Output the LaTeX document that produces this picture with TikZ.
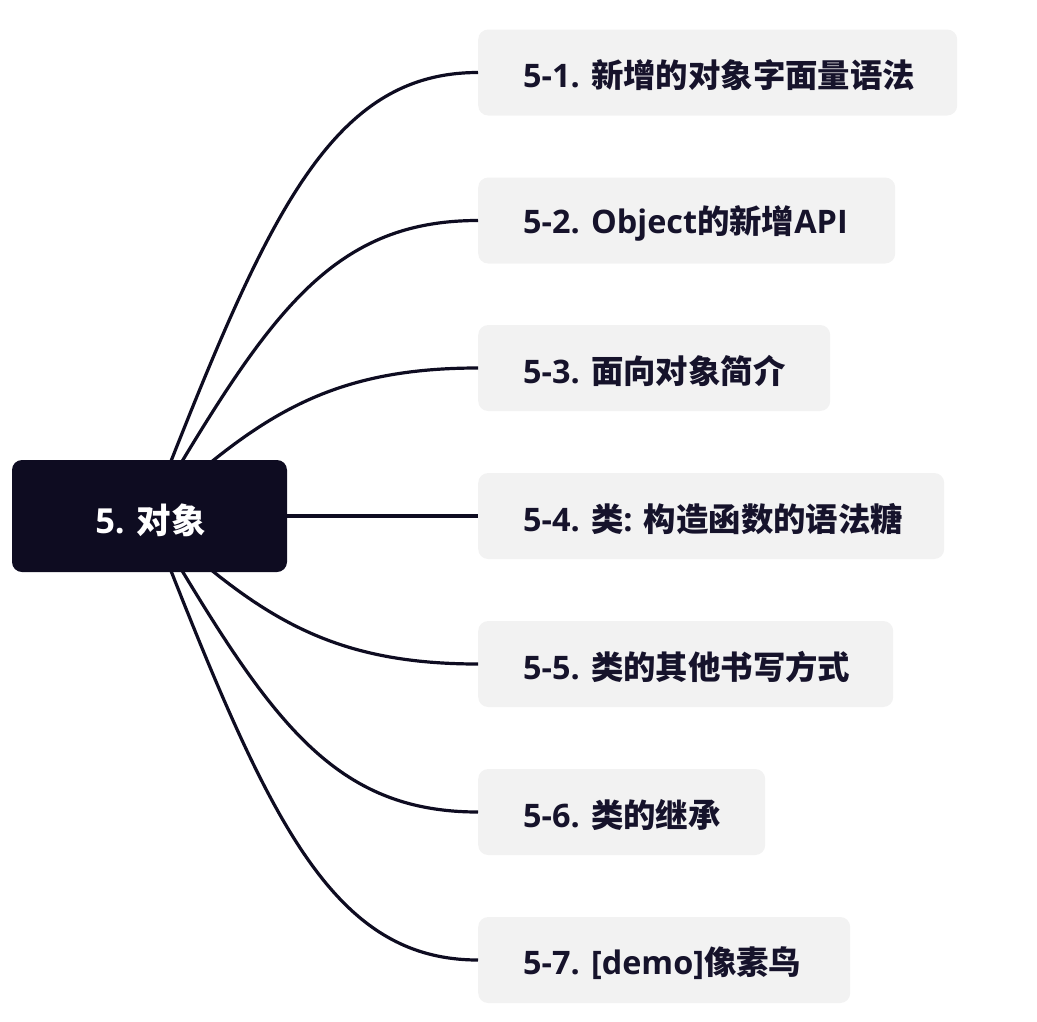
\documentclass[tikz,border=0pt]{standalone}
\usepackage{fontspec}
\setmainfont{Open Sans}
\newfontfamily\cjk{Noto Sans CJK SC}
\newcommand{\zh}[1]{{\cjk\bfseries #1}}
\definecolor{ink}{HTML}{0E0C21}
\definecolor{boxgray}{HTML}{F2F2F2}
\definecolor{txt}{HTML}{16132B}
\begin{document}
\begin{tikzpicture}[x=1pt,y=-1pt,
  conn/.style={draw=ink,line width=3.2pt},
  rootbox/.style={fill=ink,rounded corners=10pt,minimum width=275pt,minimum height=112pt,inner sep=0pt},
  childbox/.style={fill=boxgray,rounded corners=10pt,minimum height=86pt,inner sep=0pt,anchor=west},
  childtext/.style={anchor=west,inner sep=0pt,text=txt,font=\fontsize{32.4}{38}\selectfont\bfseries},
  roottext/.style={inner sep=0pt,text=white,font=\fontsize{34.5}{40}\selectfont\bfseries}]
\useasboundingbox (0,0) rectangle (1037,1021);
% child boxes
\node[childbox,minimum width=479pt] (b1) at (478,72.5) {};
\node[childbox,minimum width=417pt] (b2) at (478,220.5) {};
\node[childbox,minimum width=352pt] (b3) at (478,368) {};
\node[childbox,minimum width=466pt] (b4) at (478,516) {};
\node[childbox,minimum width=415pt] (b5) at (478,664) {};
\node[childbox,minimum width=287pt] (b6) at (478,812) {};
\node[childbox,minimum width=372pt] (b7) at (478,960) {};
% root placeholder for connectors
\coordinate (rc) at (149.5,516);
% connectors
\draw[conn] (rc) .. controls (265,220) and (328,72.5) .. (b1.west);
\draw[conn] (rc) .. controls (266,319) and (328,220.5) .. (b2.west);
\draw[conn] (rc) .. controls (257,417) and (328,368) .. (b3.west);
\draw[conn] (rc) -- (b4.west);
\draw[conn] (rc) .. controls (257,615) and (328,664) .. (b5.west);
\draw[conn] (rc) .. controls (266,713) and (328,812) .. (b6.west);
\draw[conn] (rc) .. controls (265,812) and (328,960) .. (b7.west);
% root
\node[rootbox] (root) at (rc) {};
\node[roottext] (rt) at (150.5,520) {5. \zh{对象}};
% texts
\node[childtext] (t1) at (523,75.5) {5-1. \zh{新增的对象字面量语法}};
\node[childtext] (t2) at (523,223.5) {5-2. Object\zh{的新增}API};
\node[childtext] (t3) at (523,371) {5-3. \zh{面向对象简介}};
\node[childtext] (t4) at (523,519) {5-4. \zh{类}: \zh{构造函数的语法糖}};
\node[childtext] (t5) at (523,667) {5-5. \zh{类的其他书写方式}};
\node[childtext] (t6) at (523,815) {5-6. \zh{类的继承}};
\node[childtext] (t7) at (523,963) {5-7. [demo]\zh{像素鸟}};
\end{tikzpicture}
\end{document}
